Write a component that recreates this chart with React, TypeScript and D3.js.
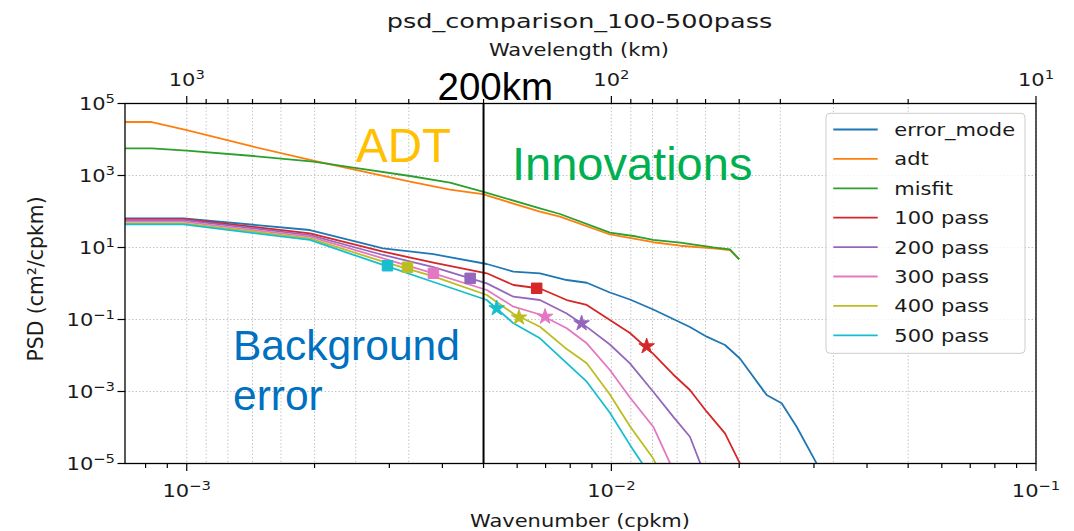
import React from 'react';
import * as d3 from 'd3';

// wavenumber samples (cpkm) for the error_mode / N-pass spectra
const kErr = [7.16e-4, 9.82e-4, 1.95e-3, 2.9e-3, 3.81e-3, 5.09e-3, 5.88e-3, 6.79e-3, 7.85e-3, 8.75e-3, 9.92e-3,
  1.106e-2, 1.255e-2, 1.398e-2, 1.531e-2, 1.677e-2, 1.852e-2, 2.008e-2, 2.321e-2, 2.518e-2, 2.731e-2, 3.043e-2, 3.39e-2];

const errorMode = [64.7, 64.7, 30.6, 9.5, 6.51, 3.48, 2.13, 1.92, 1.25, 1.05, 0.562, 0.359, 0.19, 0.103, 0.0619,
  0.0333, 0.0196, 0.00825, 8.0e-4, 4.7e-4, 1.05e-4, 1.01e-5, 9.7e-7];
const pass100 = [61.9, 61.9, 24.8, 7.64, 3.83, 1.92, 0.908, 0.726, 0.348, 0.253, 0.0969, 0.0422, 0.01115, 2.97e-3,
  1.1e-3, 2.75e-4, 6.9e-5, 1.01e-5, 2.7e-7];
const pass200 = [58.1, 58.1, 22.2, 6.19, 2.87, 1.01, 0.43, 0.348, 0.147, 0.0623, 0.0202, 6.07e-3, 9.87e-4, 2.0e-4,
  5.55e-5, 3.5e-6];
const pass300 = [52.1, 52.1, 19.95, 5.01, 1.92, 0.66, 0.227, 0.1377, 0.057, 0.0218, 3.96e-3, 6.81e-4, 1.05e-4, 6.6e-6];
const pass400 = [47.0, 47.0, 18.0, 4.03, 1.575, 0.479, 0.144, 0.0631, 0.01506, 6.07e-3, 8.25e-4, 1.09e-4, 1.37e-5, 1.0e-6];
const pass500 = [44.1, 44.1, 16.2, 3.27, 1.1, 0.348, 0.0784, 0.03, 6.11e-3, 1.87e-3, 2.58e-4, 3.29e-5, 3.5e-6];

// wavenumber samples for adt / misfit
const kObs = [7.16e-4, 8.27e-4, 1.0e-3, 1.435e-3, 1.987e-3, 2.468e-3, 3.356e-3, 4.168e-3, 4.977e-3, 6.789e-3,
  7.568e-3, 9.924e-3, 1.147e-2, 1.255e-2, 1.453e-2, 1.738e-2, 1.902e-2, 2.0e-2];
const adt = [3.06e4, 3.06e4, 1.835e4, 6310, 2578, 1486, 681, 403, 302, 98.7, 71.7, 23.0, 17.0, 14.0, 11.2, 9.5, 8.52, 4.7];
const misfit = [5696, 5696, 4885, 3480, 2417, 1647, 969, 631, 355, 122.7, 85.2, 25.8, 20.2, 16.2, 13.6, 10.1, 8.91, 4.7];

const names = ['error_mode', 'adt', 'misfit', '100 pass', '200 pass', '300 pass', '400 pass', '500 pass'];
const colors = ['#1f77b4', '#ff7f0e', '#2ca02c', '#d62728', '#9467bd', '#e377c2', '#bcbd22', '#17becf'];

// markers on the N-pass curves (100 .. 500 pass)
const squareK = [6.67e-3, 4.65e-3, 3.81e-3, 3.31e-3, 2.97e-3];
const squareP = [0.736, 1.39, 1.92, 2.82, 3.12];
const starK = [1.211e-2, 8.51e-3, 6.98e-3, 6.06e-3, 5.37e-3];
const starP = [0.018, 0.0784, 0.1196, 0.1136, 0.2048];

const yTickExp = [5, 3, 1, -1, -3, -5];
const xTickExp = [-3, -2, -1];
const wlTickExp = [3, 2, 1];
const wlMinor = [900, 800, 700, 600, 500, 400, 300, 200, 90, 80, 70, 60, 50, 40, 30, 20];
const cutoffKm = 200;

const MPL = "'DejaVu Sans', sans-serif";
const ARIAL = "'Liberation Sans', Arial, sans-serif";
const TXT = '#1a1a1a';

const Sup = ({ e }: { e: number }) => (
  <>
    10<tspan dy={-7.5} fontSize={12.3}>{e < 0 ? '\u2212' + Math.abs(e) : String(e)}</tspan>
  </>
);

const SText = ({ x, y, size = 17.5, sx = 1.2, anchor = 'middle', children }: any) => (
  <g transform={`translate(${x},${y}) scale(${sx},1)`}>
    <text fontFamily={MPL} fontSize={size} textAnchor={anchor} fill={TXT}>{children}</text>
  </g>
);

export default function App() {
  const L = 125, R = 1036, T = 103.5, B = 463.5;
  const x = d3.scaleLog().domain([7.155e-4, 0.1]).range([L, R]);
  const y = d3.scaleLog().domain([1e-5, 1e5]).range([B, T]);

  const mk = (ks: number[], ps: number[]) =>
    d3.line<number>().x((_, i) => x(ks[i])).y((p) => y(p))(ps) || '';

  const series = [
    { ks: kErr, ps: errorMode },
    { ks: kObs, ps: adt },
    { ks: kObs, ps: misfit },
    { ks: kErr, ps: pass100 },
    { ks: kErr, ps: pass200 },
    { ks: kErr, ps: pass300 },
    { ks: kErr, ps: pass400 },
    { ks: kErr, ps: pass500 },
  ];

  const minorK: number[] = [];
  [-4, -3, -2].forEach((d) => d3.range(2, 10).forEach((m) => {
    const v = m * Math.pow(10, d);
    if (v > 7.155e-4 && v < 0.1) minorK.push(v);
  }));

  const sq = d3.symbol().type(d3.symbolSquare).size(110)() || '';
  const star = d3.symbol().type(d3.symbolStar).size(75)() || '';

  const gridK = [...wlTickExp.map((e) => 1 / Math.pow(10, e)), ...wlMinor.map((w) => 1 / w)];

  return (
    <svg width={1074} height={531} style={{ position: 'absolute', left: 0, top: 0, background: '#fff' }}>
      <defs>
        <clipPath id="plot"><rect x={L} y={T} width={R - L} height={B - T} /></clipPath>
      </defs>
      <rect width={1074} height={531} fill="#fff" />

      {/* grid */}
      <g stroke="#c4c4c4" strokeWidth={1} strokeDasharray="1.5 2">
        {gridK.map((k, i) => <line key={'gx' + i} x1={x(k)} x2={x(k)} y1={T} y2={B} />)}
        {yTickExp.map((e) => <line key={'gy' + e} x1={L} x2={R} y1={y(Math.pow(10, e))} y2={y(Math.pow(10, e))} />)}
      </g>

      {/* curves */}
      <g clipPath="url(#plot)" fill="none" strokeWidth={1.8} strokeLinejoin="round">
        {series.map((s, i) => <path key={names[i]} d={mk(s.ks, s.ps)} stroke={colors[i]} />)}
      </g>

      {/* markers */}
      <g>
        {squareK.map((k, i) => (
          <path key={'sq' + i} d={sq} transform={`translate(${x(k)},${y(squareP[i])})`} fill={colors[i + 3]} stroke={colors[i + 3]} strokeWidth={1} />
        ))}
        {starK.map((k, i) => (
          <path key={'st' + i} d={star} transform={`translate(${x(k)},${y(starP[i])})`} fill={colors[i + 3]} stroke={colors[i + 3]} strokeWidth={1} />
        ))}
      </g>

      {/* 200 km line */}
      <line x1={x(1 / cutoffKm)} x2={x(1 / cutoffKm)} y1={T} y2={B} stroke="#000" strokeWidth={2} />

      {/* spines */}
      <rect x={L} y={T} width={R - L} height={B - T} fill="none" stroke="#000" strokeWidth={1.3} />

      {/* ticks */}
      <g stroke="#000" strokeWidth={1.2}>
        {yTickExp.map((e) => <line key={'yt' + e} x1={L - 7.5} x2={L} y1={y(Math.pow(10, e))} y2={y(Math.pow(10, e))} />)}
        {xTickExp.map((e) => <line key={'xt' + e} x1={x(Math.pow(10, e))} x2={x(Math.pow(10, e))} y1={B} y2={B + 7.5} />)}
        {minorK.map((k, i) => <line key={'xm' + i} x1={x(k)} x2={x(k)} y1={B} y2={B + 4.5} />)}
        {wlTickExp.map((e) => <line key={'wt' + e} x1={x(Math.pow(10, -e))} x2={x(Math.pow(10, -e))} y1={T} y2={T - 7.5} />)}
        {wlMinor.map((w) => <line key={'wm' + w} x1={x(1 / w)} x2={x(1 / w)} y1={T} y2={T - 4.5} />)}
      </g>

      {/* tick labels */}
      {yTickExp.map((e) => (
        <SText key={'yl' + e} x={115} y={y(Math.pow(10, e)) + 6.5} anchor="end"><Sup e={e} /></SText>
      ))}
      {xTickExp.map((e) => (
        <SText key={'xl' + e} x={x(Math.pow(10, e))} y={497}><Sup e={e} /></SText>
      ))}
      {wlTickExp.map((e) => (
        <SText key={'wl' + e} x={x(Math.pow(10, -e))} y={86}><Sup e={e} /></SText>
      ))}

      {/* axis labels and title */}
      <SText x={580} y={527}>Wavenumber (cpkm)</SText>
      <SText x={579} y={56}>Wavelength (km)</SText>
      <SText x={579.5} y={28} size={19.5} sx={1.31}>psd_comparison_100-500pass</SText>
      <g transform="translate(43,279) rotate(-90) scale(1.165,1.2)">
        <text fontFamily={MPL} fontSize={17.5} textAnchor="middle" fill={TXT}>PSD (cm²/cpkm)</text>
      </g>

      {/* legend */}
      <rect x={826} y={113.3} width={199} height={240} rx={4} fill="#fff" fillOpacity={0.8} stroke="#cccccc" strokeWidth={1} />
      {names.map((n, i) => {
        const ly = 129.5 + i * 29.4;
        return (
          <g key={'lg' + n}>
            <line x1={833.3} x2={877.7} y1={ly} y2={ly} stroke={colors[i]} strokeWidth={1.8} />
            <SText x={894.3} y={ly + 6.5} anchor="start">{n}</SText>
          </g>
        );
      })}

      {/* annotations */}
      <text x={437.5} y={100} fontFamily={ARIAL} fontSize={38.5} fill="#000">200km</text>
      <text x={356} y={161.7} fontFamily={ARIAL} fontSize={47.5} fill="#FFC000">ADT</text>
      <text x={512} y={180} fontFamily={ARIAL} fontSize={47} fill="#00B050">Innovations</text>
      <text fontFamily={ARIAL} fontSize={42.5} fill="#0070C0">
        <tspan x={233} y={360}>Background</tspan>
        <tspan x={233} y={410}>error</tspan>
      </text>
    </svg>
  );
}
